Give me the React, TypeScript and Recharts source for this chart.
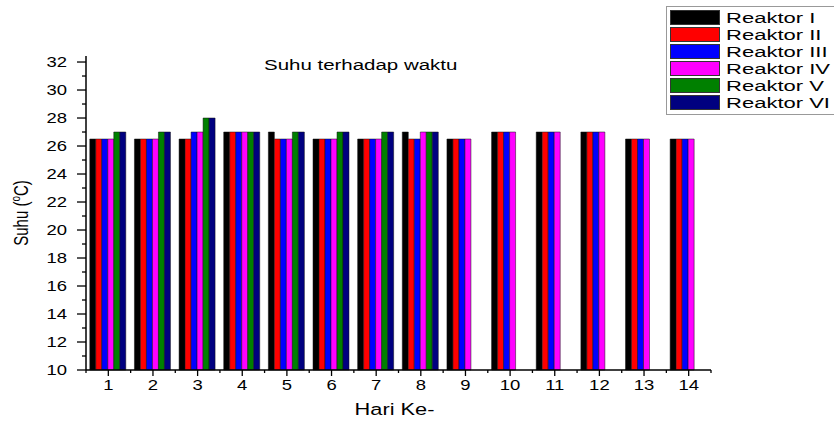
import React from 'react';
import { BarChart, Bar, XAxis, YAxis, Legend } from 'recharts';

const days = ['1', '2', '3', '4', '5', '6', '7', '8', '9', '10', '11', '12', '13', '14'];
const reaktor1 = [26.5, 26.5, 26.5, 27, 27, 26.5, 26.5, 27, 26.5, 27, 27, 27, 26.5, 26.5];
const reaktor2 = [26.5, 26.5, 26.5, 27, 26.5, 26.5, 26.5, 26.5, 26.5, 27, 27, 27, 26.5, 26.5];
const reaktor3 = [26.5, 26.5, 27, 27, 26.5, 26.5, 26.5, 26.5, 26.5, 27, 27, 27, 26.5, 26.5];
const reaktor4 = [26.5, 26.5, 27, 27, 26.5, 26.5, 26.5, 27, 26.5, 27, 27, 27, 26.5, 26.5];
const reaktor5 = [27, 27, 28, 27, 27, 27, 27, 27, null, null, null, null, null, null];
const reaktor6 = [27, 27, 28, 27, 27, 27, 27, 27, null, null, null, null, null, null];
const yTicks = [10, 11, 12, 13, 14, 15, 16, 17, 18, 19, 20, 21, 22, 23, 24, 25, 26, 27, 28, 29, 30, 31, 32];

const series = [
  { key: 'r1', name: 'Reaktor I', color: '#000000', values: reaktor1 },
  { key: 'r2', name: 'Reaktor II', color: '#ff0000', values: reaktor2 },
  { key: 'r3', name: 'Reaktor III', color: '#0000ff', values: reaktor3 },
  { key: 'r4', name: 'Reaktor IV', color: '#ff00ff', values: reaktor4 },
  { key: 'r5', name: 'Reaktor V', color: '#008000', values: reaktor5 },
  { key: 'r6', name: 'Reaktor VI', color: '#000080', values: reaktor6 },
];

const data = days.map((d, i) => {
  const row: any = { day: d };
  series.forEach(s => { row[s.key] = s.values[i]; });
  return row;
});

const FONT = '"Liberation Sans", Arial, sans-serif';
// the original picture is stretched sideways, so the text is too
const STRETCH = 1.32;

const YTick = (props: any) => {
  const { x, y, payload } = props;
  const major = payload.value % 2 === 0;
  return (
    <g>
      <line x1={x} x2={x - (major ? 9 : 4)} y1={y} y2={y} stroke="#000" strokeWidth={1.3} />
      {major && (
        <g transform={`translate(${x - 19}, ${y + 5}) scale(${STRETCH}, 1)`}>
          <text x={0} y={0} textAnchor="end" fontSize={14} fontFamily={FONT} fill="#000">
            {payload.value}
          </text>
        </g>
      )}
    </g>
  );
};

const XTick = (props: any) => {
  const { x, y, payload, index, visibleTicksCount } = props;
  const half = payload.offset || 22.3;
  const last = index === visibleTicksCount - 1;
  return (
    <g>
      <line x1={x} x2={x} y1={y} y2={y + 6} stroke="#000" strokeWidth={1.3} />
      <line x1={x - half} x2={x - half} y1={y} y2={y + 3} stroke="#000" strokeWidth={1.3} />
      {last && <line x1={x + half} x2={x + half} y1={y} y2={y + 3} stroke="#000" strokeWidth={1.3} />}
      <g transform={`translate(${x}, ${y + 20}) scale(${STRETCH}, 1)`}>
        <text x={0} y={0} textAnchor="middle" fontSize={14} fontFamily={FONT} fill="#000">
          {payload.value}
        </text>
      </g>
    </g>
  );
};

const XLabel = (props: any) => {
  const { viewBox } = props;
  const cx = viewBox.x + viewBox.width / 2;
  return (
    <g transform={`translate(${cx - 4}, 415) scale(${STRETCH}, 1)`}>
      <text x={0} y={0} textAnchor="middle" fontSize={16.5} fontFamily={FONT} fill="#000">Hari Ke-</text>
    </g>
  );
};

const YLabel = (props: any) => {
  const { viewBox } = props;
  const cy = viewBox.y + viewBox.height / 2;
  const cx = 21;
  return (
    <g transform={`translate(${cx}, ${cy}) rotate(-90) scale(1, ${STRETCH})`}>
      <text x={0} y={0} dy={5} textAnchor="middle" fontSize={15} fontFamily={FONT} fill="#000">
        Suhu (<tspan fontSize={10} dy={-6}>o</tspan><tspan dy={6}>C)</tspan>
      </text>
    </g>
  );
};

const LegendBox = () => (
  <div style={{ border: '1px solid #999', background: '#fff', padding: '2px 0 3px 3px', fontFamily: FONT }}>
    {series.map(s => (
      <div key={s.key} style={{ display: 'flex', alignItems: 'center', height: 17 }}>
        <div style={{ width: 50, height: 15, background: s.color, border: '1px solid #333', boxSizing: 'border-box' }} />
        <span style={{
          marginLeft: 6, fontSize: 15.5, lineHeight: '17px', color: '#000', display: 'inline-block',
          whiteSpace: 'nowrap', transform: 'scaleX(1.42)', transformOrigin: 'left center',
        }}>{s.name}</span>
      </div>
    ))}
  </div>
);

export default function App() {
  return (
    <div style={{ position: 'absolute', left: 0, top: 0, width: 834, height: 421, background: '#fff', overflow: 'hidden' }}>
      <BarChart
        width={834}
        height={421}
        data={data}
        margin={{ top: 56, right: 123, left: 0, bottom: 0 }}
        barCategoryGap="8.5%"
        barGap={0}
      >
        <XAxis
          dataKey="day"
          height={51}
          interval={0}
          tickSize={0}
          tickMargin={0}
          tick={<XTick />}
          axisLine={{ stroke: '#000', strokeWidth: 1.5 }}
          label={<XLabel />}
        />
        <YAxis
          width={86}
          type="number"
          domain={[10, 32.43]}
          ticks={yTicks}
          interval={0}
          tickSize={0}
          tickMargin={0}
          tick={<YTick />}
          axisLine={{ stroke: '#000', strokeWidth: 1.5 }}
          label={<YLabel />}
        />
        <Legend
          verticalAlign="middle"
          align="center"
          layout="horizontal"
          content={<LegendBox />}
          wrapperStyle={{ top: 6, left: 666, width: 175, height: 112 }}
        />
        {series.map(s => (
          <Bar key={s.key} dataKey={s.key} name={s.name} fill={s.color} stroke="#111" strokeWidth={0.5} isAnimationActive={false} />
        ))}
      </BarChart>
      <div style={{
        position: 'absolute', left: 264, top: 57, fontSize: 15.5, lineHeight: '16px', fontFamily: FONT, color: '#000',
        whiteSpace: 'nowrap', transform: `scaleX(${STRETCH})`, transformOrigin: 'left center',
      }}>
        Suhu terhadap waktu
      </div>
    </div>
  );
}
